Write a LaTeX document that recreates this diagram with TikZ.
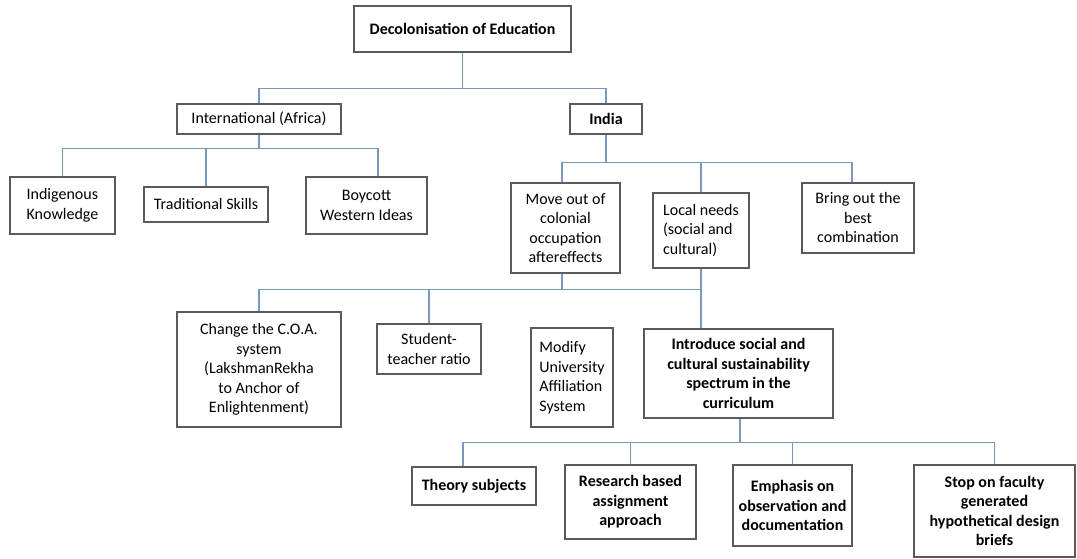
\documentclass[tikz,border=0pt]{standalone}
\usepackage{fontspec}
\setmainfont{Carlito}
\usetikzlibrary{calc}
\definecolor{conector}{HTML}{7A98BC}
\definecolor{borde}{HTML}{5A5A5A}

\begin{document}
\begin{tikzpicture}[x=1pt, y=-1pt,
  font=\fontsize{16}{19.5}\selectfont,
  caja/.style={draw=borde, line width=1.2pt, fill=white, align=center, inner sep=2pt},
  negrita/.style={caja, font=\fontsize{16}{19.5}\selectfont\bfseries},
  linea/.style={draw=conector, line width=1.1pt}]
\useasboundingbox (0,0) rectangle (1077,559);
\node[negrita, minimum width=217pt, minimum height=46pt] (raiz) at (462.5,29) {Decolonisation of Education};
\node[caja, minimum width=164pt, minimum height=30pt] (intl) at (259,119) {International (Africa)};
\node[negrita, minimum width=72pt, minimum height=30pt] (india) at (606,119) {India};
\node[caja, align=left, minimum width=105pt, minimum height=57pt] (indig) at (62.5,205.5) {Indigenous\\Knowledge};
\node[caja, minimum width=124pt, minimum height=35pt] (trad) at (206,204.5) {Traditional Skills};
\node[caja, minimum width=121pt, minimum height=57pt] (boyc) at (366.5,205.5) {Boycott\\Western Ideas};
\node[caja, minimum width=109pt, minimum height=90pt] (move) at (565.5,228) {Move out of\\colonial\\occupation\\aftereffects};
\node[caja, align=left, minimum width=96pt, minimum height=75pt] (local) at (701,230.5) {Local needs\\(social and\\cultural)};
\node[caja, minimum width=112pt, minimum height=70pt] (bring) at (858,218) {Bring out the\\best\\combination};
\node[caja, minimum width=164pt, minimum height=115pt] (coa) at (259,369.5) {Change the C.O.A.\\system\\(LakshmanRekha\\to Anchor of\\Enlightenment)};
\node[caja, minimum width=104pt, minimum height=50pt] (stud) at (429,349) {Student-\\teacher ratio};
\node[caja, align=left, minimum width=82pt, minimum height=99pt] (modif) at (572,377.5) {Modify\\University\\Affiliation\\System};
\node[negrita, minimum width=189pt, minimum height=89pt] (intro) at (738.5,373.5) {Introduce social and\\cultural sustainability\\spectrum in the\\curriculum};
\node[negrita, minimum width=124pt, minimum height=38pt] (theory) at (474,486) {Theory subjects};
\node[negrita, minimum width=131pt, minimum height=74pt] (research) at (630.5,502) {Research based\\assignment\\approach};
\node[negrita, minimum width=119pt, minimum height=81pt] (emph) at (792.5,505.5) {Emphasis on\\observation and\\documentation};
\node[negrita, minimum width=161pt, minimum height=92pt] (stop) at (994.5,511) {Stop on faculty\\generated\\hypothetical design\\briefs};
% raiz
\draw[linea] (raiz.south) -- ++(0,36) coordinate (b0);
\draw[linea] (intl.north) |- (b0) -| (india.north);
% africa
\draw[linea] (intl.south) -- ++(0,14) coordinate (b1);
\draw[linea] (indig.north) |- (b1) -| ([xshift=11.5pt]boyc.north);
\draw[linea] (trad.north) -- (trad.north |- b1);
% india
\draw[linea] (india.south) -- ++(0,28) coordinate (b2);
\draw[linea] ([xshift=-3.5pt]move.north) |- (b2) -| ([xshift=-6pt]bring.north);
\draw[linea] (local.north) -- (local.north |- b2);
% medidas
\draw[linea] ([xshift=-3.5pt]move.south) -- ++(0,16) coordinate (b3);
\draw[linea] (coa.north) |- (b3) -- (b3 -| local.south);
\draw[linea] (stud.north) -- (stud.north |- b3);
\draw[linea] (local.south) -- (local.south |- intro.north);
% curriculo
\draw[linea] ([xshift=1.5pt]intro.south) -- ++(0,24) coordinate (b4);
\draw[linea] ([xshift=-11pt]theory.north) |- (b4) -| (stop.north);
\draw[linea] (research.north) -- (research.north |- b4);
\draw[linea] (emph.north) -- (emph.north |- b4);
\end{tikzpicture}
\end{document}
